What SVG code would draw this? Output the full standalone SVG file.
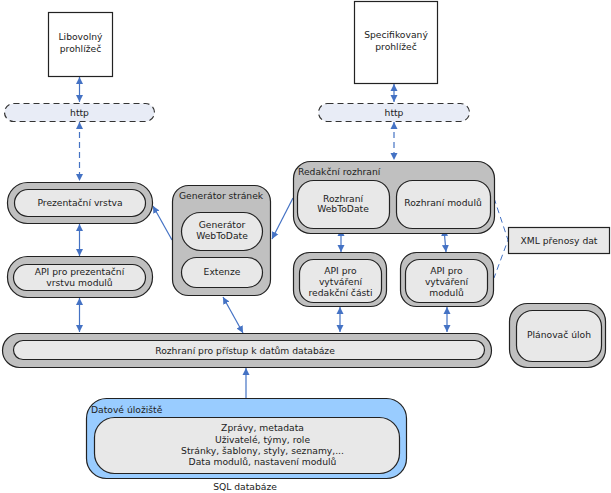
<svg xmlns="http://www.w3.org/2000/svg" width="611" height="493" viewBox="0 0 611 493">
<defs>
<style>
text{font-family:"DejaVu Sans","Verdana",sans-serif;font-size:9.2px;fill:#222;}
.c{text-anchor:middle;}
.outer{fill:#c0c0c0;stroke:#222;stroke-width:1.2;}
.inner{fill:#e8e8e8;stroke:#222;stroke-width:1.2;}
.box{fill:#fff;stroke:#222;stroke-width:1.2;}
.pill{fill:#e8ecf6;stroke:#333;stroke-width:1.2;stroke-dasharray:6 4;}
.a{stroke:#4472c4;stroke-width:1.2;fill:none;marker-end:url(#ah);}
.ab{stroke:#4472c4;stroke-width:1.2;fill:none;marker-end:url(#ah);marker-start:url(#ah);}
.d{stroke-dasharray:6 4;}
</style>
<marker id="ah" viewBox="0 0 10 10" refX="10" refY="5" markerWidth="7" markerHeight="9" markerUnits="userSpaceOnUse" orient="auto-start-reverse">
<path d="M0,0 L10,5 L0,10 z" fill="#4472c4"/>
</marker>
</defs>

<g id="connectors">
<line class="ab" x1="79.5" y1="77" x2="79.5" y2="102"/>
<line class="ab d" x1="79.5" y1="122" x2="79.5" y2="181"/>
<line class="ab" x1="394" y1="84" x2="394" y2="102"/>
<line class="ab d" x1="394" y1="122" x2="394" y2="160"/>
<line class="ab" x1="79.5" y1="224" x2="79.5" y2="256"/>
<line class="ab" x1="79.5" y1="298" x2="79.5" y2="332"/>
<line class="a" x1="172" y1="240" x2="153" y2="206"/>
<line class="a" x1="293" y1="198" x2="272" y2="239"/>
<line class="ab" x1="223" y1="297" x2="243" y2="333"/>
<line class="a" x1="246" y1="398" x2="246" y2="368"/>
<line class="ab" x1="341" y1="229" x2="341" y2="252"/>
<line class="ab" x1="340" y1="307" x2="340" y2="332"/>
<line class="ab" x1="444" y1="229" x2="446" y2="252"/>
<line class="ab" x1="447" y1="307" x2="447" y2="332"/>
<polyline points="494,198 508,240 494,278" fill="none" stroke="#4472c4" stroke-width="1" stroke-dasharray="6 4"/>
</g>

<g id="libovolny">
<rect class="box" x="48.5" y="12.5" width="64" height="64"/>
<text class="c" x="80.5" y="40">Libovolný</text>
<text class="c" x="80.5" y="52">prohlížeč</text>
</g>

<g id="specifikovany">
<rect class="box" x="354.5" y="1.5" width="83" height="82"/>
<text class="c" x="396" y="38">Specifikovaný</text>
<text class="c" x="396" y="50">prohlížeč</text>
</g>

<g id="http-left">
<rect class="pill" x="4.5" y="103.5" width="150" height="18" rx="9"/>
<text class="c" x="79.5" y="115.5">http</text>
</g>

<g id="http-right">
<rect class="pill" x="318.5" y="103.5" width="151" height="18" rx="9"/>
<text class="c" x="394" y="115.5">http</text>
</g>

<g id="prezentacni">
<rect class="outer" x="7.5" y="182.5" width="145" height="41" rx="20"/>
<rect class="inner" x="14.5" y="189.5" width="131" height="27" rx="13.5"/>
<text class="c" x="80" y="206">Prezentační vrstva</text>
</g>

<g id="api-prezentacni">
<rect class="outer" x="7.5" y="256.5" width="145" height="41" rx="20"/>
<rect class="inner" x="13.5" y="264.5" width="132" height="26" rx="13"/>
<text class="c" x="79.5" y="275">API pro prezentační</text>
<text class="c" x="79.5" y="286">vrstvu modulů</text>
</g>

<g id="generator">
<rect class="outer" x="172.5" y="185.5" width="98" height="110" rx="16"/>
<text x="179" y="199">Generátor stránek</text>
<rect class="inner" x="181.5" y="212.5" width="81" height="38" rx="19"/>
<text class="c" x="222" y="228">Generátor</text>
<text class="c" x="222" y="239">WebToDate</text>
<rect class="inner" x="181.5" y="257.5" width="81" height="30" rx="15"/>
<text class="c" x="222" y="275">Extenze</text>
</g>

<g id="redakcni">
<rect class="outer" x="293.5" y="161.5" width="201" height="72" rx="17"/>
<text x="298" y="174.5">Redakční rozhraní</text>
<rect class="inner" x="297.5" y="180.5" width="92" height="48" rx="16"/>
<text class="c" x="343" y="201.5">Rozhraní</text>
<text class="c" x="343" y="212">WebToDate</text>
<rect class="inner" x="396.5" y="180.5" width="94" height="48" rx="16"/>
<text class="c" x="443" y="206">Rozhraní modulů</text>
</g>

<g id="api-redakcni">
<rect class="outer" x="293.5" y="252.5" width="93" height="54" rx="16"/>
<rect class="inner" x="299.5" y="259.5" width="82" height="43" rx="14"/>
<text class="c" x="340.5" y="273.5">API pro</text>
<text class="c" x="340.5" y="284.5">vytváření</text>
<text class="c" x="340.5" y="296">redakční části</text>
</g>

<g id="api-moduly">
<rect class="outer" x="400.5" y="252.5" width="93" height="54" rx="16"/>
<rect class="inner" x="405.5" y="259.5" width="82" height="43" rx="14"/>
<text class="c" x="446.5" y="273.5">API pro</text>
<text class="c" x="446.5" y="284.5">vytváření</text>
<text class="c" x="446.5" y="296">modulů</text>
</g>

<g id="xml">
<rect x="508.5" y="227.5" width="101" height="26" fill="#e8e8e8" stroke="#222" stroke-width="1.2"/>
<text class="c" x="559" y="243.5">XML přenosy dat</text>
</g>

<g id="planovac">
<rect class="outer" x="509.5" y="303.5" width="96" height="64" rx="18"/>
<rect class="inner" x="516.5" y="310.5" width="85" height="51" rx="16"/>
<text class="c" x="559" y="338">Plánovač úloh</text>
</g>

<g id="rozhrani-pristup">
<rect class="outer" x="2.5" y="333.5" width="489" height="34" rx="17"/>
<rect class="inner" x="13.5" y="340.5" width="471" height="19" rx="9.5"/>
<text class="c" x="245" y="353.5">Rozhraní pro přístup k datům databáze</text>
</g>

<g id="datove">
<rect x="86.5" y="398.5" width="320" height="80" rx="20" fill="#99ccff" stroke="#222" stroke-width="1.2"/>
<text x="91" y="413">Datové úložiště</text>
<rect class="inner" x="94.5" y="417.5" width="305" height="56" rx="20"/>
<text class="c" x="262.5" y="431">Zprávy, metadata</text>
<text class="c" x="262.5" y="442.5">Uživatelé, týmy, role</text>
<text class="c" x="262.5" y="453.5">Stránky, šablony, styly, seznamy,...</text>
<text class="c" x="262.5" y="464.5">Data modulů, nastavení modulů</text>
<text class="c" x="245" y="489.5">SQL databáze</text>
</g>
</svg>
